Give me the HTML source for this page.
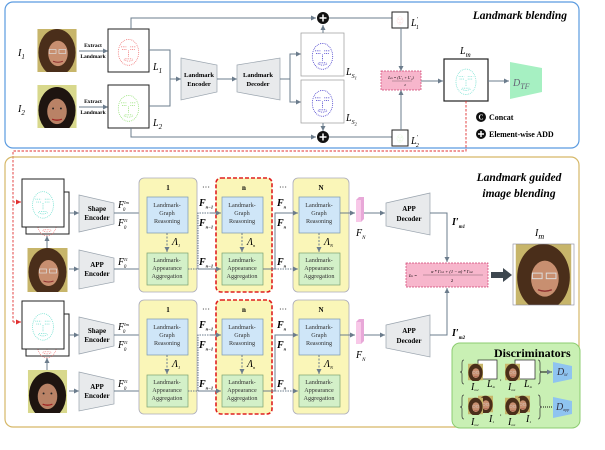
<!DOCTYPE html>
<html><head><meta charset="utf-8"><style>
html,body{margin:0;padding:0;background:#fff;}
svg{display:block;font-family:"Liberation Serif",serif;}
.b{font-weight:bold;}
.sm{font-size:6.2px;fill:#333;}
.lab{font-style:italic;font-size:10px;}
</style></head><body>
<svg width="605" height="450" viewBox="0 0 605 450" xmlns="http://www.w3.org/2000/svg">
<defs>
<marker id="ar" markerWidth="6" markerHeight="6" refX="5" refY="3" orient="auto" markerUnits="userSpaceOnUse"><path d="M0,0.5 L5,3 L0,5.5 z" fill="#6b7c8c"/></marker>
<marker id="arr" markerWidth="6" markerHeight="6" refX="5" refY="3" orient="auto" markerUnits="userSpaceOnUse"><path d="M0,0.5 L5,3 L0,5.5 z" fill="#e03030"/></marker>
<symbol id="f1" viewBox="0 0 40 44"><rect width="40" height="44" fill="#c7b56a"/><ellipse cx="20" cy="24" rx="19" ry="24" fill="#4a2e1a"/><ellipse cx="21" cy="25" rx="10" ry="13" fill="#c88f70"/><rect x="12" y="21" width="7" height="4" fill="none" stroke="#ddd" stroke-width="0.7"/><rect x="22" y="21" width="7" height="4" fill="none" stroke="#ddd" stroke-width="0.7"/><path d="M16,33 Q21,35 26,33" stroke="#903030" stroke-width="1" fill="none"/></symbol>
<symbol id="f2" viewBox="0 0 40 44"><rect width="40" height="44" fill="#d8d88c"/><ellipse cx="20" cy="26" rx="19" ry="24" fill="#1e1410"/><ellipse cx="20" cy="27" rx="10" ry="13" fill="#b98266"/><path d="M15,35 Q20,37 25,35" stroke="#a02020" stroke-width="1.3" fill="none"/><circle cx="16" cy="24" r="1" fill="#222"/><circle cx="24" cy="24" r="1" fill="#222"/></symbol>
<symbol id="lm" viewBox="0 0 40 44"><ellipse cx="20" cy="24" rx="11" ry="14" fill="none" stroke="currentColor" stroke-width="0.9" stroke-dasharray="0.9 1.1"/><path d="M12,18 h6 M22,18 h6 M13,21 h5 M22,21 h5 M20,22 v7 M15,32 q5,3 10,0 M16,31 h8" stroke="currentColor" stroke-width="0.9" stroke-dasharray="0.9 1" fill="none"/></symbol>
</defs>

<!-- TOP BOX -->
<rect x="5" y="2" width="574" height="146" rx="8" fill="#fff" stroke="#5b9be0" stroke-width="1.2"/>
<text x="567" y="19" text-anchor="end" class="b" font-style="italic" font-size="11.5">Landmark blending</text>

<use href="#f1" x="35" y="29" width="44" height="43"/>
<use href="#f2" x="35" y="85" width="44" height="43"/>
<text x="18" y="56" class="lab" font-size="11">I<tspan font-size="7" dy="3">1</tspan></text>
<text x="18" y="112" class="lab" font-size="11">I<tspan font-size="7" dy="3">2</tspan></text>
<text x="93" y="47" text-anchor="middle" class="b" font-size="5.5">Extract</text>
<text x="93" y="58" text-anchor="middle" class="b" font-size="5.5">Landmark</text>
<text x="93" y="103" text-anchor="middle" class="b" font-size="5.5">Extract</text>
<text x="93" y="114" text-anchor="middle" class="b" font-size="5.5">Landmark</text>
<line x1="79" y1="51" x2="108" y2="51" stroke="#6b7c8c" marker-end="url(#ar)"/>
<line x1="79" y1="107" x2="108" y2="107" stroke="#6b7c8c" marker-end="url(#ar)"/>
<rect x="108" y="29" width="41" height="43" fill="#fff" stroke="#222" stroke-width="1"/>
<use href="#lm" x="110" y="30" width="37" height="41" color="#f07070"/>
<rect x="108" y="85" width="41" height="43" fill="#fff" stroke="#222" stroke-width="1"/>
<use href="#lm" x="110" y="86" width="37" height="41" color="#90e070"/>
<text x="153" y="70" class="lab">L<tspan font-size="7" dy="3">1</tspan></text>
<text x="153" y="126" class="lab">L<tspan font-size="7" dy="3">2</tspan></text>
<path d="M149,50 H170 V106 H149" fill="none" stroke="#6b7c8c"/>
<line x1="170" y1="79" x2="181" y2="79" stroke="#6b7c8c" marker-end="url(#ar)"/>
<path d="M181,58 L217,65 L217,92 L181,100 Z" fill="#e8eaec" stroke="#9aa4ae" stroke-width="0.7"/>
<text x="199" y="77" text-anchor="middle" class="b" font-size="6.5">Landmark</text>
<text x="199" y="86" text-anchor="middle" class="b" font-size="6.5">Encoder</text>
<line x1="217" y1="79" x2="237" y2="79" stroke="#6b7c8c" marker-end="url(#ar)"/>
<path d="M237,65 L280,58 L280,100 L237,92 Z" fill="#e8eaec" stroke="#9aa4ae" stroke-width="0.7"/>
<text x="258" y="77" text-anchor="middle" class="b" font-size="6.5">Landmark</text>
<text x="258" y="86" text-anchor="middle" class="b" font-size="6.5">Decoder</text>
<path d="M280,79 H290 V54 H301 M290,79 V102 H301" fill="none" stroke="#6b7c8c"/>
<line x1="292" y1="54" x2="301" y2="54" stroke="#6b7c8c" marker-end="url(#ar)"/>
<line x1="292" y1="102" x2="301" y2="102" stroke="#6b7c8c" marker-end="url(#ar)"/>
<rect x="301" y="33" width="43" height="43" fill="#fff" stroke="#999" stroke-width="0.7"/>
<use href="#lm" x="304" y="34" width="37" height="41" color="#3a30c8"/>
<rect x="301" y="80" width="43" height="43" fill="#fff" stroke="#999" stroke-width="0.7"/>
<use href="#lm" x="304" y="81" width="37" height="41" color="#3a30c8"/>
<text x="346" y="75" class="lab">L<tspan font-size="6" dy="3">S</tspan><tspan font-size="4.5" dy="1.5">1</tspan></text>
<text x="346" y="121" class="lab">L<tspan font-size="6" dy="3">S</tspan><tspan font-size="4.5" dy="1.5">2</tspan></text>
<line x1="323" y1="33" x2="323" y2="25" stroke="#6b7c8c" marker-end="url(#ar)"/>
<line x1="323" y1="123" x2="323" y2="131" stroke="#6b7c8c" marker-end="url(#ar)"/>
<path d="M131,29 V18 H316" fill="none" stroke="#6b7c8c" marker-end="url(#ar)"/>
<path d="M131,128 V137 H316" fill="none" stroke="#6b7c8c" marker-end="url(#ar)"/>
<circle cx="323" cy="18" r="6" fill="#111"/><path d="M319.5,18 h7 M323,14.5 v7" stroke="#fff" stroke-width="1.5"/>
<circle cx="323" cy="137" r="6" fill="#111"/><path d="M319.5,137 h7 M323,133.5 v7" stroke="#fff" stroke-width="1.5"/>
<line x1="329" y1="18" x2="392" y2="18" stroke="#6b7c8c"/>
<line x1="329" y1="137" x2="392" y2="137" stroke="#6b7c8c"/>
<rect x="392" y="12" width="16" height="16" fill="#fff" stroke="#222"/>
<use href="#lm" x="394" y="14" width="12" height="12" color="#f07070"/>
<rect x="392" y="130" width="16" height="16" fill="#fff" stroke="#222"/>
<use href="#lm" x="394" y="132" width="12" height="12" color="#90e070"/>
<text x="411" y="26" class="lab">L<tspan font-size="6" dy="-5">′</tspan><tspan font-size="6" dy="8" dx="-2">1</tspan></text>
<text x="411" y="144" class="lab">L<tspan font-size="6" dy="-5">′</tspan><tspan font-size="6" dy="8" dx="-2">2</tspan></text>
<line x1="401" y1="28" x2="401" y2="71" stroke="#6b7c8c" marker-end="url(#ar)"/>
<line x1="401" y1="130" x2="401" y2="90" stroke="#6b7c8c" marker-end="url(#ar)"/>
<rect x="381" y="71" width="40" height="19" fill="#f7b6cc" stroke="#d04070" stroke-width="0.7" stroke-dasharray="2 1"/>
<text x="401" y="79" text-anchor="middle" font-size="4" font-style="italic">L<tspan font-size="3">m</tspan> = (L′₁ + L′₂)</text>
<line x1="392" y1="81" x2="412" y2="81" stroke="#333" stroke-width="0.3"/>
<text x="405" y="86" text-anchor="middle" font-size="3.5">2</text>
<line x1="421" y1="81" x2="443" y2="81" stroke="#6b7c8c" marker-end="url(#ar)"/>
<rect x="444" y="59" width="44" height="42" fill="#fff" stroke="#222" stroke-width="1.2"/>
<use href="#lm" x="447" y="60" width="38" height="40" color="#70e0d0"/>
<text x="460" y="54" class="lab" font-size="11">L<tspan font-size="7" dy="3">m</tspan></text>
<line x1="488" y1="81" x2="509" y2="81" stroke="#6b7c8c" marker-end="url(#ar)"/>
<path d="M510,62 L542,68 L542,92 L510,99 Z" fill="#a6f0c2"/>
<text x="513" y="86" class="lab" font-size="13" fill="#667">D<tspan font-size="8" dy="3">TF</tspan></text>
<circle cx="481" cy="117" r="5" fill="#111"/><text x="481" y="119.5" text-anchor="middle" font-size="7" fill="#fff" class="b">C</text>
<text x="489" y="120" class="b" font-size="8">Concat</text>
<circle cx="481" cy="134" r="5" fill="#111"/><path d="M478,134 h6 M481,131 v6" stroke="#fff" stroke-width="1.4"/>
<text x="489" y="137" class="b" font-size="8">Element-wise ADD</text>
<path d="M466,101 V151 H13 V322" fill="none" stroke="#e03030" stroke-width="0.9" stroke-dasharray="2.5 1.5"/>
<line x1="13" y1="202" x2="21" y2="202" stroke="#e03030" stroke-width="0.9" stroke-dasharray="2 1" marker-end="url(#arr)"/>
<line x1="13" y1="322" x2="21" y2="322" stroke="#e03030" stroke-width="0.9" stroke-dasharray="2 1" marker-end="url(#arr)"/>

<!-- BOTTOM BOX -->
<rect x="5" y="157" width="574" height="270" rx="8" fill="none" stroke="#d6b868" stroke-width="1.2"/>
<text x="519" y="181" text-anchor="middle" class="b" font-style="italic" font-size="11.5">Landmark guided</text>
<text x="519" y="197" text-anchor="middle" class="b" font-style="italic" font-size="11.5">image blending</text>

<g id="row1">
<rect x="26" y="192" width="43" height="42" fill="#fff" stroke="#222" stroke-width="1"/>
<use href="#lm" x="28" y="203" width="38" height="38" color="#f07070"/>
<rect x="22" y="179" width="42" height="48" fill="#fff" stroke="#222" stroke-width="1"/>
<use href="#lm" x="24" y="181" width="38" height="44" color="#70e0d0"/>
<line x1="47" y1="248" x2="47" y2="236" stroke="#6b7c8c" marker-end="url(#ar)"/>
<line x1="69" y1="213" x2="79" y2="213" stroke="#6b7c8c" marker-end="url(#ar)"/>
<line x1="69" y1="269" x2="79" y2="269" stroke="#6b7c8c" marker-end="url(#ar)"/>
<path d="M79,195 L114,203 L114,224 L79,232 Z" fill="#e8eaec" stroke="#9aa4ae" stroke-width="0.7"/>
<text x="97" y="211" text-anchor="middle" class="b" font-size="7">Shape</text>
<text x="97" y="220" text-anchor="middle" class="b" font-size="7">Encoder</text>
<path d="M79,250 L114,258 L114,282 L79,289 Z" fill="#e8eaec" stroke="#9aa4ae" stroke-width="0.7"/>
<text x="97" y="267" text-anchor="middle" class="b" font-size="7">APP</text>
<text x="97" y="276" text-anchor="middle" class="b" font-size="7">Encoder</text>
<line x1="114" y1="213" x2="146" y2="213" stroke="#6b7c8c" marker-end="url(#ar)"/>
<line x1="114" y1="269" x2="146" y2="269" stroke="#6b7c8c" marker-end="url(#ar)"/>
<text x="118" y="208" class="lab" font-size="8">F<tspan font-size="4.5" dy="-4">Im</tspan><tspan font-size="5" dx="-6" dy="7">0</tspan></text>
<text x="118" y="226" class="lab" font-size="8">F<tspan font-size="4.5" dy="-4">I1</tspan><tspan font-size="5" dx="-4" dy="7">0</tspan></text>
<text x="118" y="265" class="lab" font-size="8">F<tspan font-size="4.5" dy="-4">I1</tspan><tspan font-size="5" dx="-4" dy="7">0</tspan></text>

<!-- blocks -->
<rect x="139" y="178" width="58" height="114" rx="5" fill="#faf6b8" stroke="#aab" stroke-width="0.8"/>
<rect x="216" y="178" width="56" height="114" rx="5" fill="#faf6b8" stroke="#e02020" stroke-width="1.6" stroke-dasharray="4 2"/>
<rect x="293" y="178" width="56" height="114" rx="5" fill="#faf6b8" stroke="#aab" stroke-width="0.8"/>
<text x="168" y="190" text-anchor="middle" class="b" font-size="7">1</text>
<text x="244" y="190" text-anchor="middle" class="b" font-size="7">n</text>
<text x="321" y="190" text-anchor="middle" class="b" font-size="7">N</text>
<text x="206" y="190" text-anchor="middle" font-size="8">···</text>
<text x="283" y="190" text-anchor="middle" font-size="8">···</text>
<rect x="147" y="197" width="41" height="36" fill="#cfe6f8" stroke="#7a98b0" stroke-width="0.7"/>
<rect x="222" y="197" width="41" height="36" fill="#cfe6f8" stroke="#7a98b0" stroke-width="0.7"/>
<rect x="299" y="197" width="41" height="36" fill="#cfe6f8" stroke="#7a98b0" stroke-width="0.7"/>
<rect x="147" y="253" width="41" height="32" fill="#d3f0c8" stroke="#7aa070" stroke-width="0.7"/>
<rect x="222" y="253" width="41" height="32" fill="#d3f0c8" stroke="#7aa070" stroke-width="0.7"/>
<rect x="299" y="253" width="41" height="32" fill="#d3f0c8" stroke="#7aa070" stroke-width="0.7"/>
<g class="sm" text-anchor="middle">
<text x="167" y="207">Landmark-</text><text x="167" y="215">Graph</text><text x="167" y="223">Reasoning</text>
<text x="242" y="207">Landmark-</text><text x="242" y="215">Graph</text><text x="242" y="223">Reasoning</text>
<text x="319" y="207">Landmark-</text><text x="319" y="215">Graph</text><text x="319" y="223">Reasoning</text>
<text x="167" y="262">Landmark-</text><text x="167" y="270">Appearance</text><text x="167" y="278">Aggregation</text>
<text x="242" y="262">Landmark-</text><text x="242" y="270">Appearance</text><text x="242" y="278">Aggregation</text>
<text x="319" y="262">Landmark-</text><text x="319" y="270">Appearance</text><text x="319" y="278">Aggregation</text>
</g>
<line x1="167" y1="233" x2="167" y2="252" stroke="#6b7c8c" stroke-dasharray="2 1.5" marker-end="url(#ar)"/>
<line x1="242" y1="233" x2="242" y2="252" stroke="#6b7c8c" stroke-dasharray="2 1.5" marker-end="url(#ar)"/>
<line x1="319" y1="233" x2="319" y2="252" stroke="#6b7c8c" stroke-dasharray="2 1.5" marker-end="url(#ar)"/>
<text x="172" y="245" class="lab" font-size="7">Λ<tspan font-size="4.5" dy="2">1</tspan></text>
<text x="247" y="245" class="lab" font-size="7">Λ<tspan font-size="4.5" dy="2">n</tspan></text>
<text x="324" y="245" class="lab" font-size="7">Λ<tspan font-size="4.5" dy="2">N</tspan></text>
<path d="M188,269 H198 V213 H221" fill="none" stroke="#6b7c8c" stroke-dasharray="1.5 1"/>
<line x1="198" y1="269" x2="221" y2="269" stroke="#6b7c8c" marker-end="url(#ar)"/>
<line x1="210" y1="213" x2="221" y2="213" stroke="#6b7c8c" marker-end="url(#ar)"/>
<path d="M263,269 H275 V213 H298" fill="none" stroke="#6b7c8c"/>
<line x1="275" y1="269" x2="298" y2="269" stroke="#6b7c8c" stroke-dasharray="1.5 1" marker-end="url(#ar)"/>
<line x1="288" y1="213" x2="298" y2="213" stroke="#6b7c8c" marker-end="url(#ar)"/>
<text x="199" y="206" class="lab b" font-size="7">F<tspan font-size="4.5" dy="2.5">n−1</tspan></text>
<text x="199" y="226" class="lab b" font-size="7">F<tspan font-size="4.5" dy="2.5">n−1</tspan></text>
<text x="199" y="265" class="lab b" font-size="7">F<tspan font-size="4.5" dy="2.5">n−1</tspan></text>
<text x="277" y="206" class="lab b" font-size="7">F<tspan font-size="4.5" dy="2.5">n</tspan></text>
<text x="277" y="226" class="lab b" font-size="7">F<tspan font-size="4.5" dy="2.5">n</tspan></text>
<text x="277" y="265" class="lab b" font-size="7">F<tspan font-size="4.5" dy="2.5">n</tspan></text>
<line x1="340" y1="213" x2="355" y2="213" stroke="#6b7c8c" marker-end="url(#ar)"/>
<path d="M356,200 l3,-3 h5 v22 l-3,3 z" fill="#e8a8d8"/><rect x="356" y="200" width="5" height="22" fill="#f8c8e8"/>
<text x="356" y="236" class="lab" font-size="8">F<tspan font-size="5" dy="3">N</tspan></text>
<line x1="364" y1="213" x2="385" y2="213" stroke="#6b7c8c" marker-end="url(#ar)"/>
<path d="M386,203 L430,193 L430,235 L386,226 Z" fill="#e8eaec" stroke="#9aa4ae" stroke-width="0.7"/>
<text x="409" y="211" text-anchor="middle" class="b" font-size="7">APP</text>
<text x="409" y="221" text-anchor="middle" class="b" font-size="7">Decoder</text>
</g>

<use href="#f1" x="26" y="248" width="43" height="44"/>

<use href="#row1" y="122"/>
<use href="#f2" x="26" y="370" width="43" height="43"/>

<!-- outputs -->
<path d="M430,213 H447 V262" fill="none" stroke="#6b7c8c" marker-end="url(#ar)"/>
<path d="M430,335 H447 V288" fill="none" stroke="#6b7c8c" marker-end="url(#ar)"/>
<text x="452" y="225" class="lab b" font-size="9">I′<tspan font-size="5" dy="3">m1</tspan></text>
<text x="452" y="336" class="lab b" font-size="9">I′<tspan font-size="5" dy="3">m2</tspan></text>
<rect x="406" y="263" width="82" height="24" fill="#f7b6cc" stroke="#d04070" stroke-width="0.7" stroke-dasharray="2 1"/>
<text x="409" y="277" font-size="4.5" font-style="italic">I<tspan font-size="3.5">m</tspan> =</text>
<text x="452" y="273" text-anchor="middle" font-size="4.5" font-style="italic">α * I′<tspan font-size="3">m1</tspan> + (1 − α) * I′<tspan font-size="3">m2</tspan></text>
<line x1="423" y1="275" x2="483" y2="275" stroke="#333" stroke-width="0.3"/>
<text x="452" y="282" text-anchor="middle" font-size="4.5">2</text>
<path d="M491,272 h12 v-4 l9,7 l-9,7 v-4 h-12 z" fill="#3d474f"/>
<use href="#f1" x="513" y="244" width="61" height="61"/>
<rect x="513" y="244" width="61" height="61" fill="none" stroke="#889" stroke-width="0.6"/>
<text x="535" y="236" class="lab" font-size="12">I<tspan font-size="8" dy="3">m</tspan></text>

<!-- Discriminators -->
<rect x="452" y="343" width="128" height="85" rx="8" fill="#c9f0b4" stroke="#8ccc70" stroke-width="1"/>
<text x="494" y="357" class="b" font-size="12">Discriminators</text>
<path d="M464,360 q-2,0 -2,3 v7 q0,2 -2,2 q2,0 2,2 v7 q0,3 2,3" fill="none" stroke="#333" stroke-width="0.7"/>
<path d="M538,360 q2,0 2,3 v7 q0,2 2,2 q-2,0 -2,2 v7 q0,3 -2,3" fill="none" stroke="#333" stroke-width="0.7"/>
<rect x="478" y="360" width="19" height="19" fill="#fff" stroke="#222" stroke-width="0.7"/>
<use href="#f1" x="468" y="363" width="15" height="18"/>
<rect x="515" y="360" width="20" height="19" fill="#fff" stroke="#222" stroke-width="0.7"/>
<use href="#f1" x="505" y="363" width="15" height="18"/>
<text x="500" y="380" font-size="6">,</text>
<text x="471" y="390" class="lab" font-size="5">I<tspan font-size="3.5" dy="1">m2</tspan></text>
<text x="487" y="387" class="lab" font-size="5">L<tspan font-size="3.5" dy="1">m</tspan></text>
<text x="508" y="390" class="lab" font-size="5">I<tspan font-size="3.5" dy="1">m1</tspan></text>
<text x="524" y="387" class="lab" font-size="5">L<tspan font-size="3.5" dy="1">m</tspan></text>
<line x1="541" y1="372" x2="552" y2="372" stroke="#111" marker-end="url(#ar)"/>
<path d="M553,362 L572,366 L572,379 L553,383 Z" fill="#8fc4f0"/>
<text x="557" y="375" class="lab" font-size="6" fill="#334">D<tspan font-size="4" dy="1">ld</tspan></text>
<path d="M464,395 q-2,0 -2,3 v7 q0,2 -2,2 q2,0 2,2 v7 q0,3 2,3" fill="none" stroke="#333" stroke-width="0.7"/>
<path d="M538,395 q2,0 2,3 v7 q0,2 2,2 q-2,0 -2,2 v7 q0,3 -2,3" fill="none" stroke="#333" stroke-width="0.7"/>
<use href="#f1" x="478" y="395" width="15" height="18"/>
<use href="#f1" x="468" y="397" width="15" height="18"/>
<use href="#f1" x="515" y="395" width="15" height="18"/>
<use href="#f1" x="505" y="397" width="15" height="18"/>
<text x="500" y="415" font-size="6">,</text>
<text x="471" y="425" class="lab" font-size="5">I<tspan font-size="3.5" dy="1">m2</tspan></text>
<text x="489" y="422" class="lab" font-size="5">I<tspan font-size="3.5" dy="1">1</tspan></text>
<text x="508" y="425" class="lab" font-size="5">I<tspan font-size="3.5" dy="1">m1</tspan></text>
<text x="526" y="422" class="lab" font-size="5">I<tspan font-size="3.5" dy="1">1</tspan></text>
<line x1="543" y1="407" x2="552" y2="407" stroke="#111" stroke-dasharray="1 1"/>
<path d="M553,397 L572,401 L572,414 L553,418 Z" fill="#8fc4f0"/>
<text x="556" y="410" class="lab" font-size="6" fill="#334">D<tspan font-size="4" dy="1">app</tspan></text>
</svg>
</body></html>
